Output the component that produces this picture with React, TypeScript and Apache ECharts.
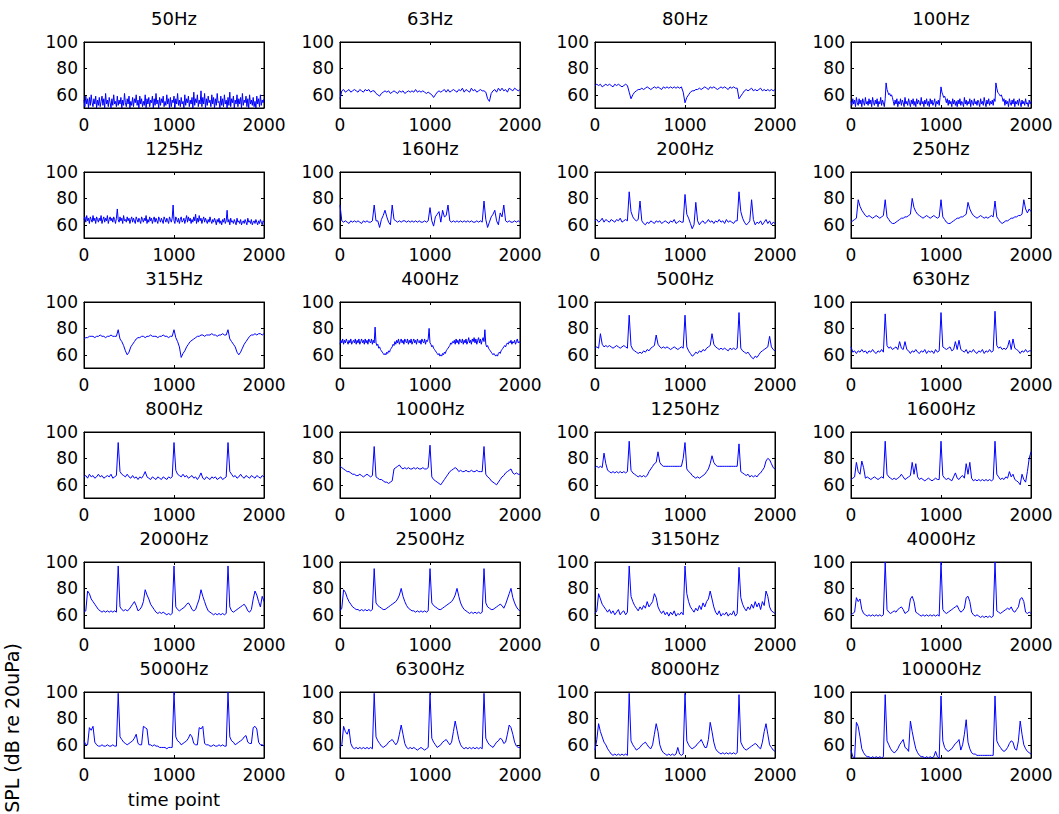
import React, { useEffect, useRef } from "react";
import * as echarts from "echarts";

// ---- data (SPL in dB re 20uPa over time points 0..2000) ----
const freqLabels = [
  "50Hz", "63Hz", "80Hz", "100Hz",
  "125Hz", "160Hz", "200Hz", "250Hz",
  "315Hz", "400Hz", "500Hz", "630Hz",
  "800Hz", "1000Hz", "1250Hz", "1600Hz",
  "2000Hz", "2500Hz", "3150Hz", "4000Hz",
  "5000Hz", "6300Hz", "8000Hz", "10000Hz",
];

const xTickValues = [0, 1000, 2000];
const yTickValues = [60, 80, 100];
const timeSpan = 2000;

// noisy bands: sampled every 10 time points (201 values)
const s50 = [
  56,51,59,53,57,50,58,52,60,54,
  51,57,53,59,50,56,52,58,51,55,
  59,52,57,50,61,53,56,51,58,54,
  50,57,52,60,53,55,51,59,52,56,
  53,58,50,56,52,61,54,51,57,53,
  59,50,55,52,58,51,57,54,60,52,
  56,50,59,53,57,51,55,52,60,50,
  57,53,58,51,56,54,59,50,57,52,
  61,53,56,50,58,52,57,54,59,51,
  55,52,60,53,57,50,58,51,56,54,
  59,50,57,53,61,52,56,51,58,53,
  55,50,60,52,57,54,59,51,56,53,
  58,50,62,52,57,54,60,51,56,53,
  63,51,58,53,61,50,57,52,59,54,
  56,51,60,53,58,50,57,52,61,54,
  55,50,59,52,57,51,60,53,56,50,
  58,52,62,51,57,54,59,50,56,53,
  60,51,57,53,58,50,61,52,56,54,
  59,51,57,50,60,53,56,52,58,51,
  55,50,59,53,57,51,60,52,56,54,
  57];
const s100 = [
  55,52,57,53,56,51,58,54,52,57,
  53,56,51,57,54,52,58,53,55,52,
  57,53,56,51,58,54,52,56,53,57,
  51,55,53,58,52,56,54,51,57,69,
  64,62,60,61,59,60,58,55,52,56,
  53,57,51,55,53,57,52,56,54,51,
  58,53,55,52,57,54,51,56,53,57,
  52,55,51,57,53,56,54,52,58,53,
  55,51,56,53,57,52,55,51,57,53,
  56,52,54,57,51,55,53,56,52,58,
  66,62,60,58,59,57,54,57,52,56,
  53,55,51,57,53,56,52,55,51,56,
  53,57,52,55,54,51,58,53,56,52,
  55,53,57,51,56,54,52,57,53,55,
  52,56,54,51,57,53,55,52,58,54,
  51,56,53,57,52,55,53,56,52,57,
  55,69,65,62,61,60,59,60,58,55,
  57,52,56,53,55,51,57,54,52,56,
  53,57,51,55,53,56,52,57,54,51,
  56,53,55,52,57,53,54,51,56,53,
  55];
const s125 = [
  64,66,62,67,63,65,61,66,64,62,
  67,63,65,61,66,64,62,65,63,67,
  61,64,66,62,65,63,67,61,64,66,
  63,65,62,66,64,61,65,72,64,62,
  66,63,65,61,67,63,64,62,66,63,
  65,61,64,66,62,65,63,61,66,64,
  62,65,63,61,66,64,62,65,63,67,
  61,64,62,66,63,65,61,64,66,62,
  65,63,61,66,64,62,65,63,61,66,
  64,62,65,63,61,66,64,62,65,75,
  63,61,66,64,62,65,61,64,66,62,
  63,65,61,64,67,62,66,63,65,61,
  64,62,66,63,68,61,65,62,67,63,
  65,61,64,66,62,65,63,61,64,62,
  66,63,61,64,62,65,63,60,64,62,
  65,61,63,60,64,62,65,61,63,71,
  62,64,60,65,62,63,61,64,62,60,
  65,62,63,61,64,60,62,63,61,64,
  62,60,65,62,63,61,64,60,62,63,
  61,64,62,60,63,61,64,62,60,63,
  62];
const s400 = [
  68,71,69,72,68,71,69,72,70,68,
  71,69,72,68,70,71,69,72,68,71,
  69,72,68,70,72,69,71,68,72,69,
  71,68,72,70,69,72,68,71,69,81,
  69,67,68,65,66,64,63,62,61,60,
  61,60,62,61,63,62,64,65,66,68,
  67,70,68,71,69,72,68,70,72,69,
  71,68,72,70,69,72,68,71,69,72,
  68,70,72,69,71,68,72,70,69,71,
  68,72,70,69,72,68,71,70,72,80,
  69,68,66,67,65,64,63,62,61,60,
  61,59,60,59,61,60,62,61,63,64,
  65,66,67,69,68,70,69,71,68,72,
  69,71,68,72,70,69,72,68,71,69,
  72,68,70,73,69,71,68,72,70,73,
  69,72,68,71,73,69,72,68,71,73,
  70,79,68,66,67,65,64,63,62,61,
  60,61,60,59,60,59,61,62,61,63,
  64,65,66,67,66,68,69,68,70,69,
  71,68,70,69,71,68,70,72,69,70,
  69];

// other bands: sampled every 20 time points (101 values)
const s63 = [
  57,63,64,62,63,64,62,63,64,63,
  62,64,63,62,64,63,64,62,63,63,
  61,60,59,61,62,63,62,63,61,62,
  63,62,61,63,62,63,61,62,63,62,
  63,62,64,62,63,62,63,62,61,62,
  61,60,58,60,62,63,62,63,64,62,
  64,62,63,64,63,62,64,63,65,62,
  64,63,62,65,63,64,62,63,64,63,
  63,62,57,55,61,63,64,62,65,63,
  65,63,64,62,65,64,63,65,64,63,
  64];
const s80 = [
  67,68,67,68,66,67,68,67,68,67,
  66,68,67,68,67,66,67,68,67,62,
  57,60,62,63,64,64,65,64,65,66,
  65,64,65,66,65,66,65,64,66,65,
  66,65,66,65,66,65,66,65,66,62,
  54,58,60,62,63,63,64,64,65,64,
  65,66,65,64,66,65,66,65,64,65,
  66,65,66,65,64,66,65,66,65,65,
  57,59,61,63,64,63,64,65,63,64,
  63,64,65,63,64,63,64,63,64,63,
  64];
const s160 = [
  75,63,62,63,62,61,63,62,63,62,
  63,62,61,63,62,63,62,62,63,75,
  63,63,58,64,67,71,66,62,60,75,
  64,63,62,63,62,63,63,62,63,62,
  63,62,63,62,63,62,62,63,62,63,
  73,63,59,66,68,70,62,71,66,67,
  75,63,62,63,62,63,62,63,62,63,
  62,63,62,63,62,62,63,62,63,62,
  78,64,58,62,66,68,71,63,60,69,
  66,75,63,62,63,62,62,63,62,63,
  62];
const s200 = [
  63,64,62,63,65,62,64,63,62,64,
  63,62,64,63,65,62,63,64,63,85,
  70,66,64,63,64,78,63,61,60,62,
  61,63,62,61,63,62,63,61,62,63,
  62,61,63,62,64,61,62,63,62,62,
  83,68,65,61,57,60,77,63,60,62,
  63,61,62,64,62,63,61,63,62,64,
  62,63,61,64,62,63,62,61,63,63,
  85,70,65,62,60,61,63,79,64,60,
  62,61,63,60,62,64,61,63,60,62,
  61];
const s250 = [
  62,63,64,65,79,74,71,69,67,66,
  67,66,65,66,67,66,65,66,67,79,
  66,64,62,61,61,62,63,64,65,65,
  66,66,67,68,80,73,70,68,67,66,
  65,66,67,66,65,66,67,66,65,66,
  79,66,64,62,61,61,62,63,64,65,
  65,66,66,67,68,77,72,69,67,66,
  65,66,67,66,65,66,65,66,67,66,
  78,66,64,62,61,62,63,63,64,65,
  65,66,66,67,67,68,79,72,69,72,
  70];
const s315 = [
  72,73,73,74,74,74,73,74,74,75,
  74,74,73,74,74,75,74,74,74,79,
  72,70,67,63,60,62,66,68,70,72,
  73,73,74,74,73,74,74,75,74,74,
  74,73,74,74,75,74,74,73,74,74,
  79,73,70,66,58,61,63,66,68,70,
  71,72,73,74,74,75,75,74,75,75,
  75,76,75,75,74,75,75,76,75,75,
  79,72,70,68,66,62,60,62,65,68,
  70,72,74,75,75,76,75,76,76,75,
  76];
const s500 = [
  65,66,65,76,68,66,67,66,67,66,
  65,66,67,66,65,66,67,66,65,90,
  67,64,63,62,61,62,61,63,62,64,
  63,65,66,67,75,68,66,65,66,65,
  66,65,64,65,66,65,64,65,66,65,
  90,66,63,61,59,60,62,61,63,62,
  64,63,65,66,67,76,68,66,65,64,
  65,64,65,64,63,65,64,65,64,65,
  92,65,63,62,61,62,60,58,57,59,
  58,60,62,63,64,65,66,74,66,64,
  63];
const s630 = [
  66,62,63,61,63,62,64,62,63,61,
  63,62,64,62,61,63,62,64,62,91,
  67,65,66,64,65,66,64,70,65,64,
  70,64,63,61,63,62,64,62,61,63,
  62,64,61,63,62,63,61,64,62,63,
  92,66,65,64,65,66,63,64,70,64,
  71,64,63,62,64,61,63,62,64,62,
  61,63,62,64,61,63,62,64,62,63,
  93,67,65,66,64,65,64,66,71,64,
  72,65,64,63,61,63,62,64,62,63,
  63];
const s800 = [
  66,67,65,68,66,67,65,66,68,66,
  67,65,66,67,66,68,65,66,67,92,
  70,68,67,66,68,66,65,67,65,66,
  64,66,65,67,70,66,65,64,66,65,
  64,66,65,64,66,65,64,66,65,66,
  92,71,68,67,66,68,66,67,65,66,
  67,65,66,64,66,69,65,64,66,65,
  64,66,65,66,64,65,66,64,65,66,
  92,70,68,66,67,65,66,68,66,65,
  67,66,65,67,66,65,67,66,65,67,
  66];
const s1000 = [
  74,73,72,71,70,70,69,68,68,67,
  67,68,67,66,67,68,67,66,67,89,
  66,65,64,64,63,62,62,61,62,63,
  72,73,74,75,73,72,73,72,73,72,
  72,73,72,73,72,72,73,72,72,73,
  90,66,64,63,62,61,60,62,64,66,
  68,70,71,72,73,72,70,71,70,70,
  71,70,70,71,70,70,71,70,70,70,
  89,68,66,65,63,62,61,60,62,64,
  66,67,69,70,71,72,69,68,69,68,
  68];
const s1250 = [
  73,74,73,74,73,84,76,71,70,69,
  70,69,70,69,70,69,70,69,70,93,
  71,69,68,67,66,67,66,67,66,67,
  70,72,74,76,77,85,77,75,74,74,
  74,74,74,74,74,74,74,74,74,80,
  92,72,70,69,67,66,65,66,65,66,
  67,68,70,72,76,82,77,75,74,74,
  74,74,74,74,74,74,74,74,74,74,
  91,70,69,68,67,68,66,67,66,67,
  66,68,69,71,73,78,80,79,76,73,
  72];
const s1600 = [
  64,65,66,77,70,68,78,73,65,66,
  65,64,65,66,65,64,65,66,65,93,
  68,66,65,64,65,64,65,66,68,66,
  64,65,66,67,77,68,76,66,64,65,
  64,63,64,65,64,63,64,65,64,64,
  93,67,65,64,65,64,63,66,69,65,
  64,66,67,65,76,68,77,65,63,64,
  63,64,63,64,63,64,63,64,63,64,
  93,68,66,64,65,64,66,65,70,66,
  68,64,63,62,60,68,64,62,70,80,
  85];
const s2000 = [
  62,63,78,76,72,70,68,66,64,63,
  62,63,62,63,62,63,62,63,62,97,
  66,64,63,64,63,64,66,68,70,67,
  63,64,66,70,79,75,72,68,66,64,
  62,61,62,61,62,61,60,61,60,61,
  97,66,64,63,64,65,66,68,69,67,
  64,63,64,68,72,79,74,70,66,63,
  62,61,60,61,60,61,60,61,60,61,
  97,66,63,62,63,64,65,66,67,68,
  66,63,62,64,72,78,75,70,66,74,
  70];
const s2500 = [
  63,65,79,77,73,70,68,66,65,64,
  64,63,64,63,64,63,64,63,64,95,
  69,67,66,65,64,64,65,66,67,68,
  69,70,72,75,80,74,70,67,65,64,
  63,63,62,63,62,63,62,63,62,63,
  95,69,67,66,65,64,64,65,66,67,
  68,69,70,72,75,80,74,69,66,64,
  63,62,61,62,61,62,61,62,61,62,
  95,69,66,65,64,64,65,66,67,68,
  67,65,68,72,76,80,73,69,66,64,
  63];
const s3150 = [
  61,63,76,72,68,66,64,62,64,61,
  63,60,62,64,60,62,63,60,62,97,
  74,70,67,65,63,66,64,67,65,70,
  66,68,70,76,73,66,63,61,63,60,
  62,59,62,60,63,59,61,60,62,60,
  97,76,70,66,64,62,65,63,67,64,
  69,66,70,72,78,72,66,62,60,63,
  59,61,60,62,59,61,60,63,59,61,
  96,73,68,65,63,66,64,68,65,70,
  66,69,64,70,67,78,74,66,63,62,
  61];
const s4000 = [
  60,61,62,73,70,72,64,61,60,59,
  60,59,60,59,60,59,60,59,60,100,
  64,62,61,62,63,62,64,65,66,64,
  61,62,63,72,74,70,62,61,60,59,
  60,59,60,59,60,59,60,59,60,59,
  100,64,62,61,62,63,64,65,66,67,
  64,62,63,65,73,74,70,62,60,59,
  60,59,58,59,58,59,58,59,58,59,
  100,63,62,61,62,63,64,65,64,66,
  63,62,64,66,72,73,70,62,61,62,
  61];
const s5000 = [
  63,60,60,73,71,74,62,60,59,59,
  60,59,59,60,59,59,60,59,59,99,
  66,64,62,61,60,61,62,63,65,68,
  61,60,60,74,73,72,60,60,59,60,
  59,59,58,58,58,58,57,58,58,58,
  100,66,63,62,60,61,62,63,65,68,
  66,61,60,60,73,72,74,61,60,60,
  59,59,60,59,59,60,59,60,59,59,
  100,66,63,62,60,61,62,63,64,66,
  67,62,61,61,73,74,72,62,60,60,
  59];
const s6300 = [
  58,60,74,70,68,72,61,58,57,58,
  57,58,57,58,57,58,57,58,57,99,
  66,63,61,59,58,59,60,62,63,64,
  62,60,62,68,75,68,61,58,57,58,
  57,58,57,56,57,58,57,56,57,58,
  99,65,62,60,58,59,60,62,63,64,
  62,60,62,70,78,71,64,60,58,57,
  58,57,58,57,58,57,58,57,58,57,
  99,65,62,60,59,58,60,62,63,65,
  64,61,62,68,75,73,68,62,59,58,
  58];
const s8000 = [
  56,64,76,70,66,62,60,57,55,53,
  52,53,52,53,52,53,52,53,52,99,
  63,60,58,56,57,58,60,61,62,60,
  58,57,60,68,76,70,60,56,54,53,
  52,53,52,53,52,53,58,53,52,53,
  99,63,60,58,57,58,59,61,62,64,
  61,58,58,64,77,70,62,57,55,54,
  53,54,53,54,53,54,53,54,53,54,
  98,62,59,57,56,57,58,59,60,61,
  60,58,57,62,70,76,68,60,58,56,
  55];
const s10000 = [
  56,51,50,77,74,66,57,54,52,51,
  51,50,51,50,51,50,51,50,51,98,
  63,60,57,55,54,55,57,60,62,64,
  58,57,55,78,70,63,57,54,52,51,
  51,50,51,50,51,50,51,55,51,50,
  97,63,58,56,55,56,57,59,61,62,
  64,56,60,68,79,62,57,54,53,53,
  52,52,52,52,52,52,52,52,52,52,
  97,63,60,58,56,55,56,58,61,63,
  62,57,56,63,78,68,60,57,55,54,
  53];

const seriesValues = [
  s50, s63, s80, s100,
  s125, s160, s200, s250,
  s315, s400, s500, s630,
  s800, s1000, s1250, s1600,
  s2000, s2500, s3150, s4000,
  s5000, s6300, s8000, s10000,
];

const yLabelText = "SPL (dB re 20uPa)";
const xLabelText = "time point";

// ---- layout ----
const FONT = "DejaVu Sans";
const FS = 17;
const colLeft = [84, 340, 595, 851];
const rowTop = [42, 172, 302, 432, 562, 692];
const PW = 180;
const PH = 66;

function buildOption() {
  const grid: any[] = [];
  const xAxis: any[] = [];
  const yAxis: any[] = [];
  const series: any[] = [];
  const graphic: any[] = [];

  freqLabels.forEach((label, k) => {
    const c = k % 4;
    const r = Math.floor(k / 4);
    const left = colLeft[c];
    const top = rowTop[r];
    grid.push({
      left, top, width: PW, height: PH,
      show: true, borderColor: "#000", borderWidth: 1, backgroundColor: "#fff",
      containLabel: false,
    });
    const tickStyle = { show: true, inside: true, length: 3, lineStyle: { color: "#000", width: 1 } };
    const lineStyle = { show: true, onZero: false, lineStyle: { color: "#000", width: 1 } };
    xAxis.push({
      type: "value", gridIndex: k, position: "bottom", min: xTickValues[0], max: xTickValues[2], interval: 1000,
      axisLine: lineStyle,
      axisTick: tickStyle,
      axisLabel: {
        show: true, color: "#000", fontFamily: FONT, fontSize: FS, margin: 8,
        showMinLabel: true, showMaxLabel: true,
        formatter: (v: number) => String(v),
      },
      splitLine: { show: false },
    });
    xAxis.push({
      type: "value", gridIndex: k, position: "top", min: xTickValues[0], max: xTickValues[2], interval: 1000,
      axisLine: lineStyle,
      axisTick: tickStyle,
      axisLabel: { show: false },
      splitLine: { show: false },
    });
    yAxis.push({
      type: "value", gridIndex: k, position: "left", min: 50, max: 100,
      axisLine: lineStyle,
      axisTick: { ...tickStyle, customValues: yTickValues },
      axisLabel: { show: true, color: "#000", fontFamily: FONT, fontSize: FS, margin: 6, customValues: yTickValues },
      splitLine: { show: false },
    });
    yAxis.push({
      type: "value", gridIndex: k, position: "right", min: 50, max: 100,
      axisLine: lineStyle,
      axisTick: { ...tickStyle, customValues: yTickValues },
      axisLabel: { show: false },
      splitLine: { show: false },
    });
    const vals = seriesValues[k];
    const step = timeSpan / (vals.length - 1);
    series.push({
      type: "line",
      xAxisIndex: 2 * k,
      yAxisIndex: 2 * k,
      data: vals.map((v, i) => [i * step, v]),
      showSymbol: false,
      symbol: "none",
      clip: true,
      lineStyle: { color: "#0000ff", width: 1 },
      silent: true,
    });
    graphic.push({
      type: "text",
      x: left + PW / 2,
      y: top - 24,
      style: {
        text: label, fill: "#000", font: `18px "${FONT}"`,
        textAlign: "center", textVerticalAlign: "middle",
      },
    });
  });

  graphic.push({
    type: "text",
    x: 12,
    y: 728,
    rotation: Math.PI / 2,
    style: {
      text: yLabelText, fill: "#000", font: `19px "${FONT}"`,
      textAlign: "center", textVerticalAlign: "middle",
    },
  });
  graphic.push({
    type: "text",
    x: colLeft[0] + PW / 2,
    y: 799,
    style: {
      text: xLabelText, fill: "#000", font: `18px "${FONT}"`,
      textAlign: "center", textVerticalAlign: "middle",
    },
  });

  return {
    animation: false,
    backgroundColor: "#fff",
    grid, xAxis, yAxis, series, graphic,
  };
}

export default function App() {
  const ref = useRef<HTMLDivElement>(null);
  useEffect(() => {
    document.body.style.margin = "0";
    if (!ref.current) return;
    const chart = echarts.init(ref.current, null, { renderer: "svg" });
    chart.setOption(buildOption() as any);
    return () => chart.dispose();
  }, []);
  return <div ref={ref} style={{ width: 1059, height: 814 }} />;
}
